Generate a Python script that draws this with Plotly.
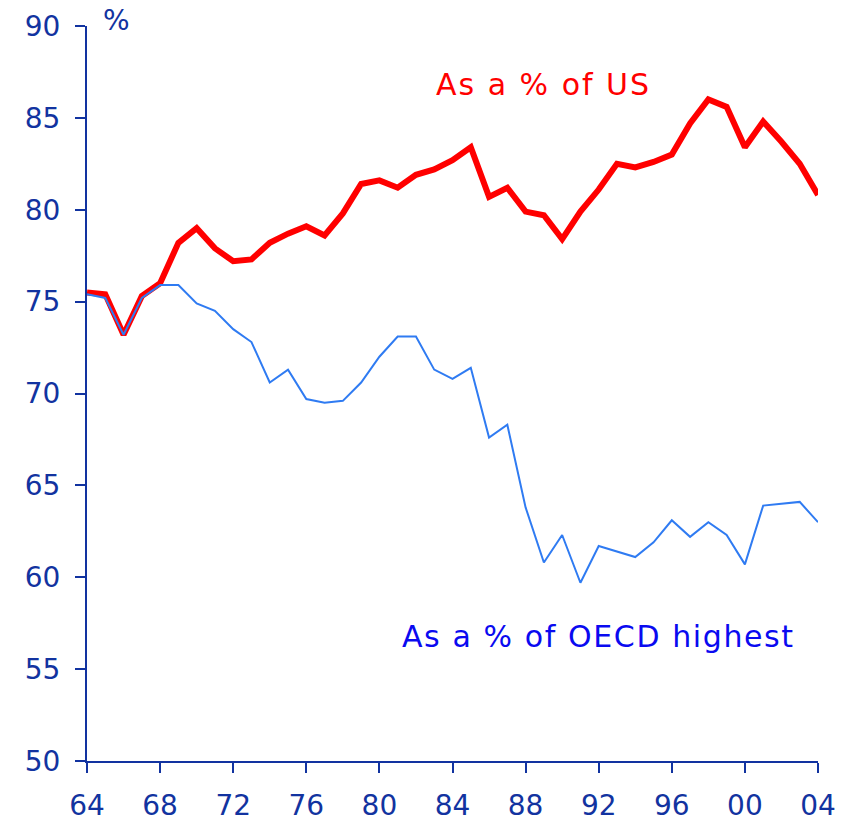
import plotly.graph_objects as go

years = list(range(1964, 2005))

pct_of_us = [75.5, 75.4, 73.2, 75.3, 76.0, 78.2, 79.0, 77.9, 77.2, 77.3,
             78.2, 78.7, 79.1, 78.6, 79.8, 81.4, 81.6, 81.2, 81.9, 82.2,
             82.7, 83.4, 80.7, 81.2, 79.9, 79.7, 78.4, 79.9, 81.1, 82.5,
             82.3, 82.6, 83.0, 84.7, 86.0, 85.6, 83.4, 84.8, 83.7, 82.5,
             80.8]

pct_of_oecd_highest = [75.4, 75.2, 73.2, 75.2, 75.9, 75.9, 74.9, 74.5, 73.5, 72.8,
                       70.6, 71.3, 69.7, 69.5, 69.6, 70.6, 72.0, 73.1, 73.1, 71.3,
                       70.8, 71.4, 67.6, 68.3, 63.8, 60.8, 62.3, 59.7, 61.7, 61.4,
                       61.1, 61.9, 63.1, 62.2, 63.0, 62.3, 60.7, 63.9, 64.0, 64.1,
                       63.0]

x_tickvals = list(range(1964, 2005, 4))
x_ticktext = ["64", "68", "72", "76", "80", "84", "88", "92", "96", "00", "04"]
y_tickvals = [50, 55, 60, 65, 70, 75, 80, 85, 90]

AXIS = "#1233a0"
FONT = "DejaVu Sans"

fig = go.Figure()
fig.add_trace(go.Scatter(x=years, y=pct_of_us, mode="lines",
                         line=dict(color="#ff0000", width=6), name="As a % of US"))
fig.add_trace(go.Scatter(x=years, y=pct_of_oecd_highest, mode="lines",
                         line=dict(color="#2f7bf2", width=2), name="As a % of OECD highest"))

fig.update_layout(
    width=840, height=813,
    margin=dict(l=79, r=30, t=18, b=60),
    paper_bgcolor="white", plot_bgcolor="white",
    showlegend=False,
    font=dict(family=FONT, color=AXIS, size=28),
)
fig.update_xaxes(
    range=[1964, 2004], tickvals=x_tickvals, ticktext=x_ticktext,
    showgrid=False, zeroline=False, showline=True, linecolor=AXIS, linewidth=2,
    ticks="outside", ticklen=10, tickwidth=2, tickcolor=AXIS,
    tickfont=dict(family=FONT, size=28, color=AXIS), ticklabelstandoff=8,
    automargin=False,
)
fig.update_yaxes(
    range=[50, 90], tickvals=y_tickvals,
    showgrid=False, zeroline=False, showline=True, linecolor=AXIS, linewidth=2,
    ticks="outside", ticklen=10, tickwidth=2, tickcolor=AXIS,
    tickfont=dict(family=FONT, size=28, color=AXIS), ticklabelstandoff=9,
    automargin=False,
)

fig.add_annotation(x=1983.0, y=86.8, xref="x", yref="y", xanchor="left", yanchor="middle",
                   text='<span style="letter-spacing:2px">As a % of US</span>',
                   showarrow=False, font=dict(family=FONT, size=30, color="#ff0000"))
fig.add_annotation(x=1981.15, y=56.8, xref="x", yref="y", xanchor="left", yanchor="middle",
                   text='<span style="letter-spacing:1.6px">As a % of OECD highest</span>',
                   showarrow=False, font=dict(family=FONT, size=30, color="#0a0af0"))
fig.add_annotation(x=0.041, y=1.007, xref="paper", yref="paper", xanchor="center", yanchor="middle",
                   text="%", showarrow=False, font=dict(family=FONT, size=28, color=AXIS))

fig.write_html("out.html")
